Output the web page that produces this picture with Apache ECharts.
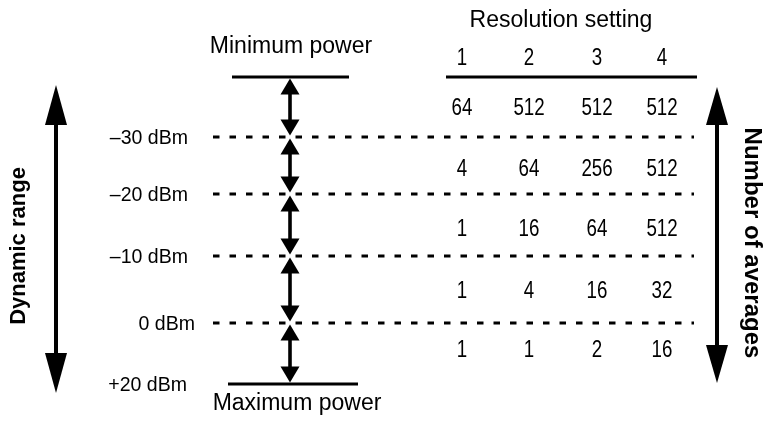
<!DOCTYPE html>
<html><head><meta charset="utf-8">
<script src="https://cdn.jsdelivr.net/npm/echarts@6/dist/echarts.min.js"></script>
<style>html,body{margin:0;padding:0;background:#fff}#chart{width:768px;height:421px}</style>
</head><body><div id="chart"></div>
<script>
// ---------------- data ----------------
const resolutionSettings = ['1', '2', '3', '4'];
const powerLevels = ['–30 dBm', '–20 dBm', '–10 dBm', '0 dBm', '+20 dBm'];
const averagesRes1 = [64, 4, 1, 1, 1];
const averagesRes2 = [512, 64, 16, 4, 1];
const averagesRes3 = [512, 256, 64, 16, 2];
const averagesRes4 = [512, 512, 512, 32, 16];
const titleText = 'Resolution setting';
const minPowerText = 'Minimum power';
const maxPowerText = 'Maximum power';
const leftAxisText = 'Dynamic range';
const rightAxisText = 'Number of averages';

// ---------------- layout (in the hidden axes' units) ----------------
const colX = [462, 529, 597, 662];
const rowY = [108, 169, 229, 291, 350];
const levelY = [77, 137, 194, 256, 323, 384];
const levelLabelRight = [188, 188, 188, 195, 187];
const arrowX = 290;
const dashFromX = 213, dashToX = 694;

const SANS = "'Liberation Sans', Arial, sans-serif";
const DIGIT_SCALE = 0.78; // condensed look for the figures

// segments
const segs = [];
segs.push({x1: 232, y1: levelY[0], x2: 349, y2: levelY[0], w: 3});          // minimum power bar
segs.push({x1: 228, y1: levelY[5], x2: 358, y2: levelY[5], w: 3});          // maximum power bar
segs.push({x1: 446, y1: 77, x2: 697, y2: 77, w: 2.8});                      // header underline
for (let i = 1; i <= 4; i++) {
  segs.push({x1: dashFromX, y1: levelY[i], x2: dashToX, y2: levelY[i], w: 3, dash: [6.5, 10]});
}

// double arrows
const arrows = [];
for (let i = 0; i < 5; i++) {
  arrows.push({x: arrowX, y1: levelY[i] + 1.5, y2: levelY[i + 1] - 1.5, hw: 19, hh: 16, sw: 3.6});
}
arrows.push({x: 56, y1: 85, y2: 393, hw: 22, hh: 40, sw: 4});
arrows.push({x: 717, y1: 87, y2: 383, hw: 22, hh: 38, sw: 4});

// texts
const texts = [];
texts.push({x: 561, y: 21, t: titleText, font: '23px ' + SANS, align: 'center'});
resolutionSettings.forEach((r, j) => texts.push({x: colX[j], y: 58, t: r, font: '24px ' + SANS, align: 'center', sx: DIGIT_SCALE}));
texts.push({x: 291, y: 47, t: minPowerText, font: '23px ' + SANS, align: 'center'});
texts.push({x: 297, y: 404, t: maxPowerText, font: '23px ' + SANS, align: 'center'});
powerLevels.forEach((p, i) => texts.push({x: levelLabelRight[i], y: levelY[i + 1] + 1, t: p, font: '21px ' + SANS, align: 'right', sx: 0.93}));
[averagesRes1, averagesRes2, averagesRes3, averagesRes4].forEach((col, j) => {
  col.forEach((v, i) => texts.push({x: colX[j], y: rowY[i], t: String(v), font: '24px ' + SANS, align: 'center', sx: DIGIT_SCALE}));
});
texts.push({x: 19, y: 246, t: leftAxisText, font: 'bold 22px ' + SANS, align: 'center', rot: Math.PI / 2});
texts.push({x: 752, y: 243, t: rightAxisText, font: 'bold 24px ' + SANS, align: 'center', rot: -Math.PI / 2});

const chart = echarts.init(document.getElementById('chart'), null, {renderer: 'canvas'});
chart.setOption({
  backgroundColor: '#fff',
  animation: false,
  grid: {left: 0, right: 0, top: 0, bottom: 0},
  xAxis: {type: 'value', min: 0, max: 768, show: false},
  yAxis: {type: 'value', min: 0, max: 421, inverse: true, show: false},
  series: [
    {
      type: 'custom', name: 'lines', silent: true, clip: false,
      data: segs.map(s => [s.x1, s.y1]),
      renderItem: (params, api) => {
        const s = segs[params.dataIndex];
        const a = api.coord([s.x1, s.y1]), b = api.coord([s.x2, s.y2]);
        return {type: 'line', shape: {x1: a[0], y1: a[1], x2: b[0], y2: b[1]},
          style: {stroke: '#000', lineWidth: s.w, lineDash: s.dash || null, lineCap: 'butt'}};
      }
    },
    {
      type: 'custom', name: 'arrows', silent: true, clip: false,
      data: arrows.map(a => [a.x, a.y1]),
      renderItem: (params, api) => {
        const a = arrows[params.dataIndex];
        const t = api.coord([a.x, a.y1]), b = api.coord([a.x, a.y2]);
        const x = t[0], y1 = t[1], y2 = b[1];
        return {type: 'group', children: [
          {type: 'rect', shape: {x: x - a.sw / 2, y: y1 + a.hh - 1, width: a.sw, height: (y2 - y1) - 2 * a.hh + 2}, style: {fill: '#000'}},
          {type: 'polygon', shape: {points: [[x, y1], [x - a.hw / 2, y1 + a.hh], [x + a.hw / 2, y1 + a.hh]]}, style: {fill: '#000'}},
          {type: 'polygon', shape: {points: [[x, y2], [x - a.hw / 2, y2 - a.hh], [x + a.hw / 2, y2 - a.hh]]}, style: {fill: '#000'}}
        ]};
      }
    },
    {
      type: 'custom', name: 'texts', silent: true, clip: false,
      data: texts.map(t => [t.x, t.y]),
      renderItem: (params, api) => {
        const t = texts[params.dataIndex];
        const p = api.coord([t.x, t.y]);
        return {type: 'text', x: p[0], y: p[1], rotation: t.rot || 0, scaleX: t.sx || 1,
          style: {text: t.t, font: t.font, fill: '#000', align: t.align, verticalAlign: 'middle'}};
      }
    }
  ]
});
</script>
</body></html>
